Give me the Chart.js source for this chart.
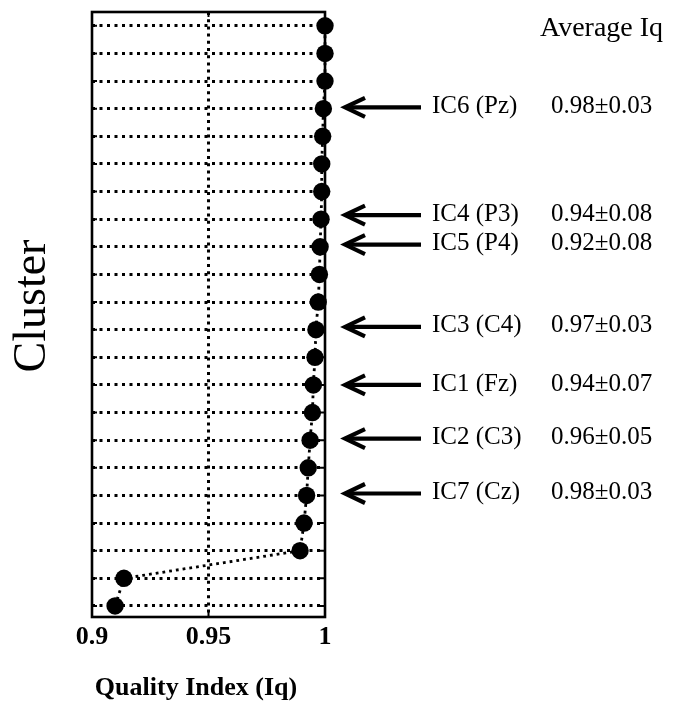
<!DOCTYPE html>
<html><head><meta charset="utf-8">
<script src="https://cdn.jsdelivr.net/npm/chart.js@4.4.1/dist/chart.umd.min.js"></script>
<style>html,body{margin:0;padding:0;background:#fff}#wrap{width:679px;height:703px;position:relative}</style>
</head><body><div id="wrap"><canvas id="c"></canvas></div>
<script>
// ---- data ----
const clusters = [1,2,3,4,5,6,7,8,9,10,11,12,13,14,15,16,17,18,19,20,21,22];
const qualityIndex = [0.9099, 0.9137, 0.9893, 0.9910, 0.9921, 0.9928, 0.9936, 0.9946, 0.9950, 0.9957, 0.9961,
                      0.9971, 0.9976, 0.9979, 0.9983, 0.9986, 0.9986, 0.9990, 0.9993, 1.0, 1.0, 1.0];
const xTickValues = [0.9, 0.95, 1];
const xTickLabels = ['0.9', '0.95', '1'];
const componentLabels = ['IC6 (Pz)', 'IC4 (P3)', 'IC5 (P4)', 'IC3 (C4)', 'IC1 (Fz)', 'IC2 (C3)', 'IC7 (Cz)'];
const componentAverages = ['0.98\u00b10.03', '0.94\u00b10.08', '0.92\u00b10.08', '0.97\u00b10.03', '0.94\u00b10.07', '0.96\u00b10.05', '0.98\u00b10.03'];
const componentRows = [19.05, 15.15, 14.08, 11.1, 9.0, 7.06, 5.07];
const averageHeader = 'Average Iq';
const xTitle = 'Quality Index (Iq)';
const yTitle = 'Cluster';

const SERIF = '"Liberation Serif", "Times New Roman", serif';

const framePlugin = {
  id: 'frame',
  beforeDatasetsDraw(chart) {
    const {ctx, chartArea: a, scales} = chart;
    ctx.save();
    ctx.strokeStyle = '#000';
    ctx.lineWidth = 2.6;
    ctx.strokeRect(a.left, a.top, a.right - a.left, a.bottom - a.top);
    // small inward tick marks
    ctx.lineWidth = 2;
    scales.y.ticks.forEach(t => {
      const y = scales.y.getPixelForValue(t.value);
      ctx.beginPath();
      ctx.moveTo(a.left, y); ctx.lineTo(a.left + 5, y);
      ctx.moveTo(a.right, y); ctx.lineTo(a.right - 5, y);
      ctx.stroke();
    });
    scales.x.ticks.forEach(t => {
      const x = scales.x.getPixelForValue(t.value);
      ctx.beginPath();
      ctx.moveTo(x, a.top); ctx.lineTo(x, a.top + 5);
      ctx.moveTo(x, a.bottom); ctx.lineTo(x, a.bottom - 5);
      ctx.stroke();
    });
    ctx.restore();
  }
};

const notesPlugin = {
  id: 'notes',
  afterDraw(chart) {
    const {ctx, scales} = chart;
    ctx.save();
    ctx.fillStyle = '#000';
    ctx.strokeStyle = '#000';
    // axis titles
    ctx.font = '46px ' + SERIF;
    ctx.textAlign = 'center';
    ctx.textBaseline = 'middle';
    ctx.save();
    ctx.translate(33, 306);
    ctx.rotate(-Math.PI / 2);
    ctx.fillText(yTitle, 0, 0);
    ctx.restore();
    ctx.font = 'bold 26px ' + SERIF;
    ctx.fillText(xTitle, 196, 688);
    // header
    ctx.font = '28px ' + SERIF;
    ctx.textAlign = 'left';
    ctx.textBaseline = 'alphabetic';
    ctx.fillText(averageHeader, 540, 36);
    // arrows and labels
    ctx.font = '25px ' + SERIF;
    ctx.textBaseline = 'middle';
    componentRows.forEach((r, i) => {
      const y = scales.y.getPixelForValue(r);
      const tip = 345, tail = 421;
      ctx.lineWidth = 4.2;
      ctx.lineCap = 'butt';
      ctx.lineJoin = 'miter';
      ctx.beginPath();
      ctx.moveTo(tail, y); ctx.lineTo(tip + 3, y);
      ctx.stroke();
      ctx.beginPath();
      ctx.moveTo(tip + 20, y - 9.5);
      ctx.lineTo(tip, y);
      ctx.lineTo(tip + 20, y + 9.5);
      ctx.stroke();
      ctx.fillText(componentLabels[i], 432, y - 1);
      ctx.fillText(componentAverages[i], 551, y - 1);
    });
    ctx.restore();
  }
};

new Chart(document.getElementById('c'), {
  type: 'line',
  data: {
    datasets: [{
      data: clusters.map((c, i) => ({x: qualityIndex[i], y: c})),
      borderColor: '#000',
      borderWidth: 2.8,
      borderDash: [2.8, 4],
      pointRadius: 8.7,
      pointHoverRadius: 8.7,
      pointBackgroundColor: '#000',
      pointBorderWidth: 0,
      tension: 0,
      clip: false
    }]
  },
  options: {
    responsive: true,
    maintainAspectRatio: false,
    animation: false,
    events: [],
    layout: {padding: {left: 0, top: 12, right: 354, bottom: 0}},
    plugins: {legend: {display: false}, tooltip: {enabled: false}},
    scales: {
      x: {
        type: 'linear', min: 0.9, max: 1,
        afterBuildTicks: s => { s.ticks = xTickValues.map(v => ({value: v})); },
        afterFit: s => { s.height = 86; },
        ticks: {
          callback: (v, i) => xTickLabels[i],
          font: {family: SERIF, size: 26, weight: 'bold'},
          color: '#000', padding: 5, maxRotation: 0, autoSkip: false
        },
        grid: {
          color: c => (c.tick && Math.abs(c.tick.value - 0.95) < 1e-6) ? '#000' : 'rgba(0,0,0,0)',
          lineWidth: 3, drawTicks: false
        },
        border: {display: false, dash: [3, 4.2]}
      },
      y: {
        type: 'linear', min: 0.6, max: 22.5,
        afterBuildTicks: s => { s.ticks = clusters.map(v => ({value: v})); },
        afterFit: s => { s.width = 92; },
        ticks: {display: false},
        grid: {color: '#000', lineWidth: 3, drawTicks: false},
        border: {display: false, dash: [3, 4.5]}
      }
    }
  },
  plugins: [framePlugin, notesPlugin]
});
</script>
</body></html>
